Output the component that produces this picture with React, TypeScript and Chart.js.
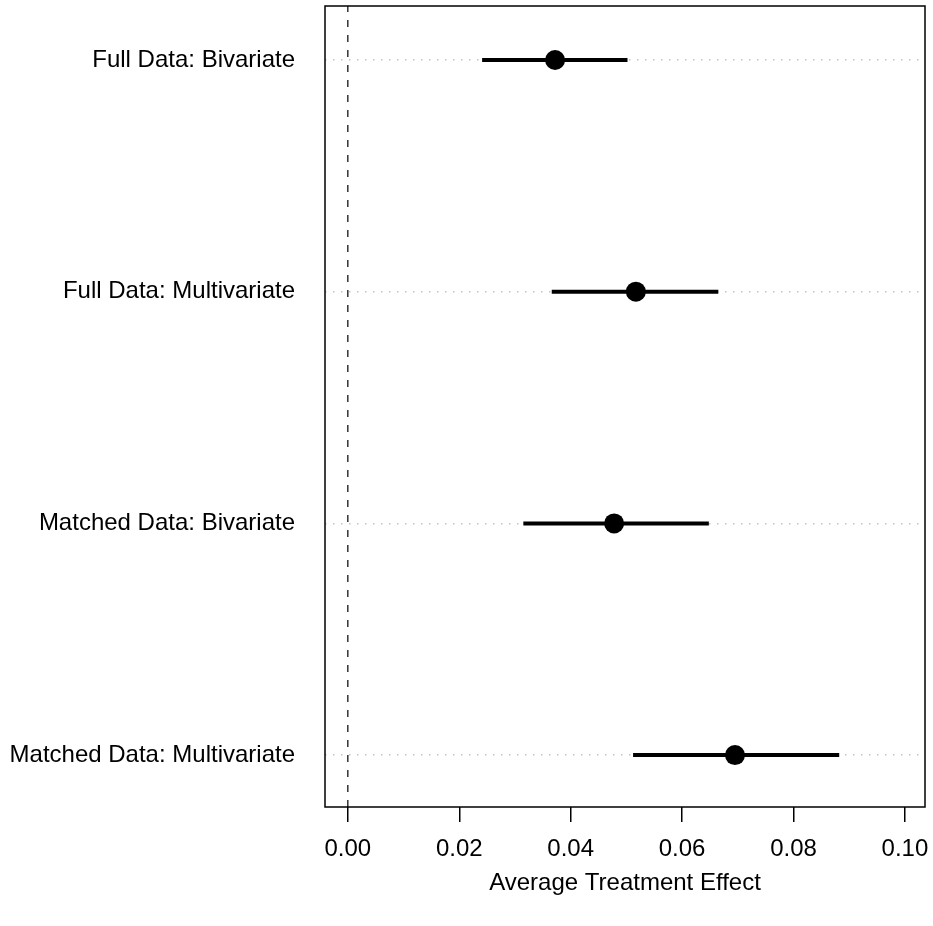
import React, { useEffect, useRef } from "react";
import { Chart, registerables } from "chart.js";

Chart.register(...registerables);

const categories = [
  "Full Data: Bivariate",
  "Full Data: Multivariate",
  "Matched Data: Bivariate",
  "Matched Data: Multivariate",
];
const rowPositions = [4, 3, 2, 1];
const estimates = [0.0372, 0.0517, 0.0478, 0.0695];
const lowerBounds = [0.0241, 0.0366, 0.0315, 0.0512];
const upperBounds = [0.0502, 0.0665, 0.0648, 0.0882];
const xTicks = [0, 0.02, 0.04, 0.06, 0.08, 0.1];
const xTitle = "Average Treatment Effect";

const X_MIN = -0.0041;
const X_MAX = 0.1036;
const Y_MIN = 0.776;
const Y_MAX = 4.233;
const FONT = "'Liberation Sans', Arial, Helvetica, sans-serif";
const FONT_SIZE = 24;

const boxPlugin = {
  id: "box",
  afterDatasetsDraw(chart: any) {
    const { ctx, chartArea } = chart;
    ctx.save();
    ctx.strokeStyle = "#000";
    ctx.lineWidth = 1.5;
    ctx.strokeRect(chartArea.left, chartArea.top, chartArea.right - chartArea.left, chartArea.bottom - chartArea.top);
    ctx.restore();
  },
};

function zeroPadding(axis: any) {
  axis.paddingTop = 0;
  axis.paddingBottom = 0;
  axis.paddingLeft = 0;
  axis.paddingRight = 0;
}

export default function App() {
  const ref = useRef<HTMLCanvasElement | null>(null);
  useEffect(() => {
    if (!ref.current) return;
    const ciSets = categories.map((c, i) => ({
      type: "line" as const,
      label: c + " CI",
      data: [
        { x: lowerBounds[i], y: rowPositions[i] },
        { x: upperBounds[i], y: rowPositions[i] },
      ],
      borderColor: "#000",
      borderWidth: 4,
      pointRadius: 0,
      borderCapStyle: "butt" as const,
    }));
    const chart = new Chart(ref.current, {
      type: "scatter",
      data: {
        datasets: [
          {
            type: "line",
            label: "zero",
            data: [
              { x: 0, y: Y_MIN },
              { x: 0, y: Y_MAX },
            ],
            borderColor: "#000",
            borderWidth: 1.2,
            borderDash: [7, 8],
            pointRadius: 0,
          } as any,
          ...ciSets,
          {
            type: "scatter",
            label: "Estimate",
            data: categories.map((c, i) => ({ x: estimates[i], y: rowPositions[i] })),
            backgroundColor: "#000",
            borderColor: "#000",
            borderWidth: 0,
            pointRadius: 10,
          } as any,
        ],
      },
      options: {
        responsive: false,
        devicePixelRatio: 1,
        animation: false,
        layout: { autoPadding: false, padding: { top: 6, right: 8, left: 0, bottom: 0 } },
        plugins: { legend: { display: false }, tooltip: { enabled: false } },
        scales: {
          x: {
            type: "linear",
            min: X_MIN,
            max: X_MAX,
            afterBuildTicks: (axis: any) => {
              axis.ticks = xTicks.map((v) => ({ value: v }));
            },
            afterFit: (axis: any) => {
              axis.height = 119;
              zeroPadding(axis);
            },
            ticks: {
              color: "#000",
              font: { family: FONT, size: FONT_SIZE },
              padding: 13,
              maxRotation: 0,
              autoSkip: false,
              callback: (v: any) => Number(v).toFixed(2),
            },
            grid: {
              drawOnChartArea: false,
              drawTicks: true,
              tickLength: 15,
              color: "#000",
              lineWidth: 1.5,
            },
            border: { display: false },
            title: {
              display: true,
              text: xTitle,
              color: "#000",
              font: { family: FONT, size: FONT_SIZE },
              padding: { top: 0, bottom: 28 },
            },
          },
          y: {
            type: "linear",
            min: Y_MIN,
            max: Y_MAX,
            afterBuildTicks: (axis: any) => {
              axis.ticks = rowPositions.map((v) => ({ value: v }));
            },
            afterFit: (axis: any) => {
              axis.width = 325;
              zeroPadding(axis);
            },
            ticks: {
              color: "#000",
              font: { family: FONT, size: FONT_SIZE },
              padding: 30,
              autoSkip: false,
              callback: (v: any) => {
                const idx = rowPositions.indexOf(Number(v));
                return idx >= 0 ? categories[idx] : "";
              },
            },
            grid: {
              drawTicks: false,
              tickLength: 0,
              color: "#c4c4c4",
              lineWidth: 1.5,
              borderDash: [1.5, 6.5],
            } as any,
            border: { display: false, dash: [1.5, 6.5] } as any,
          },
        },
      },
      plugins: [boxPlugin],
    });
    return () => chart.destroy();
  }, []);
  return (
    <div style={{ position: "absolute", left: 0, top: 0, width: 933, height: 926, background: "#fff" }}>
      <canvas ref={ref} width={933} height={926} style={{ width: 933, height: 926, display: "block" }} />
    </div>
  );
}
